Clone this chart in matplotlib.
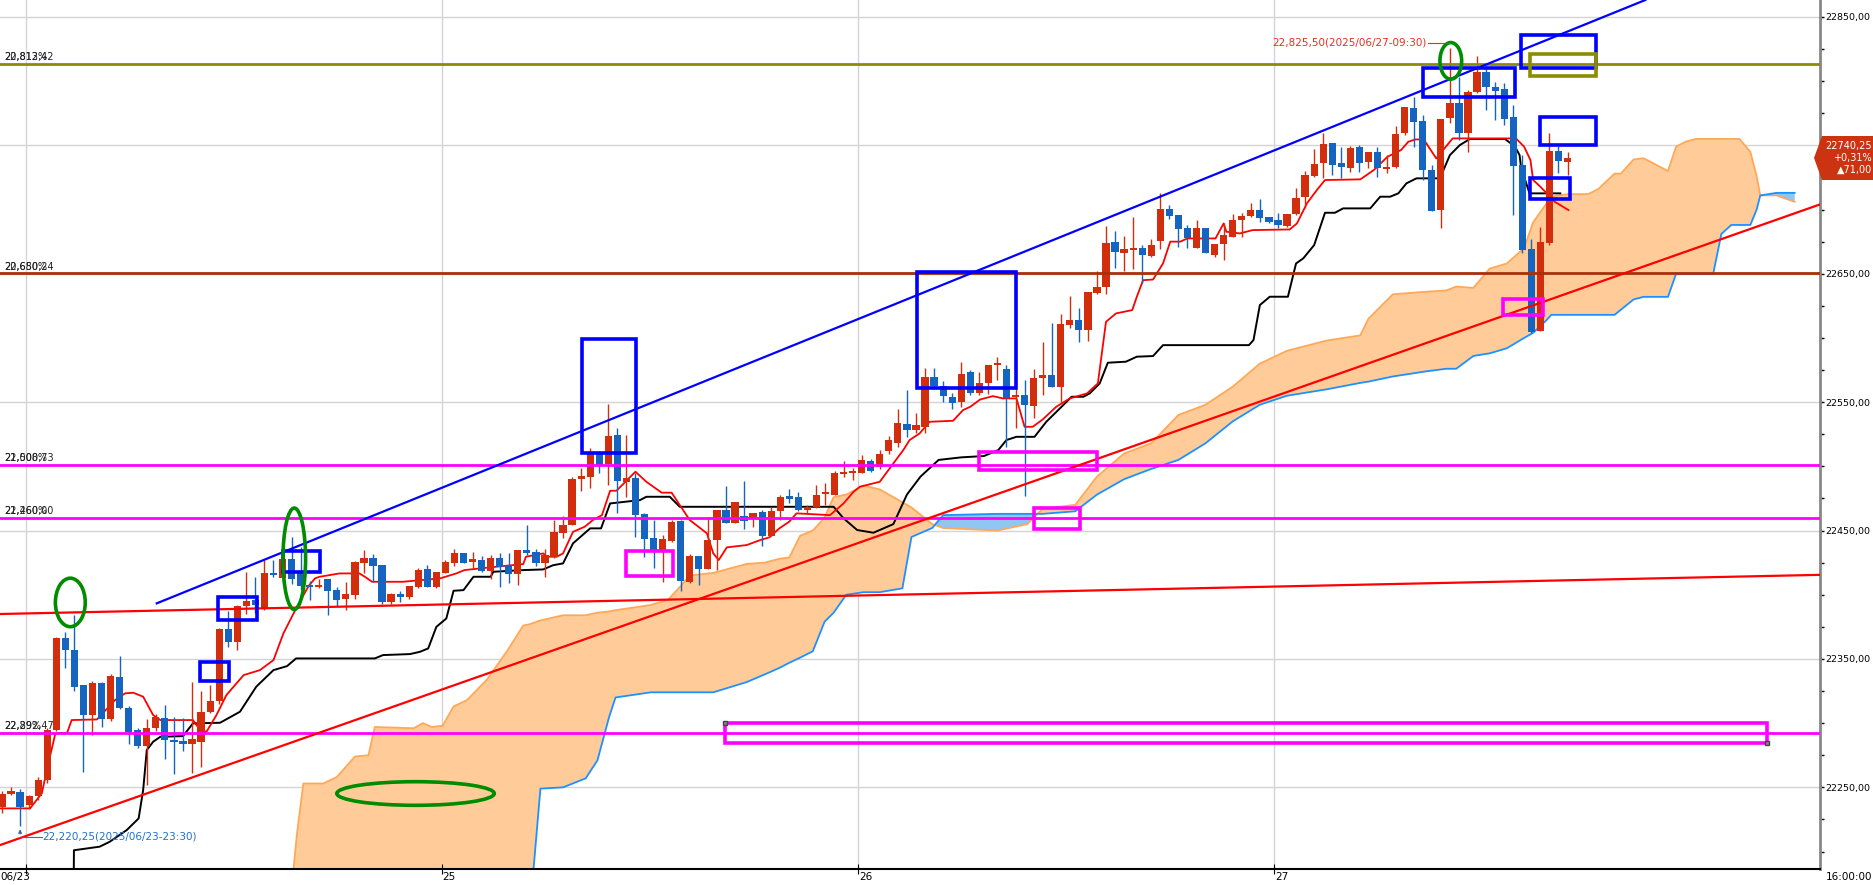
import numpy as np
import matplotlib.pyplot as plt
from matplotlib.patches import Rectangle, Ellipse, Polygon

# ------------------------------------------------------------
# 30-minute candles (x = bar number)
# ------------------------------------------------------------
opens = [22235, 22245, 22246, 22236, 22243, 22256, 22295, 22366, 22357, 22330,
         22306, 22331, 22303, 22336, 22312, 22295, 22282, 22296, 22304, 22287,
         22286, 22284, 22285, 22309, 22317, 22373, 22363, 22391, 22396, 22389,
         22417, 22413, 22428, 22418, 22407.5, 22406, 22412, 22404, 22396.6, 22400,
         22425, 22428.3, 22423, 22394, 22400.5, 22398, 22406.2, 22419.7, 22405.7, 22417.2,
         22425, 22432.2, 22425.7, 22427, 22418.7, 22428.3, 22423, 22416, 22434.8, 22433,
         22425, 22429.6, 22448.1, 22454.3, 22490, 22492, 22510, 22501.8, 22524.4, 22488,
         22490.6, 22462.8, 22444.2, 22434.8, 22442.1, 22457.4, 22410, 22430, 22419.7, 22442.6,
         22466, 22456.1, 22461.3, 22458.7, 22464.4, 22446, 22465, 22476.6, 22475.8, 22466,
         22468, 22478.4, 22477.6, 22494.3, 22494.5, 22495, 22504, 22499.5, 22512, 22518.4,
         22532.6, 22528.2, 22530.8, 22569.3, 22562.5, 22554.2, 22550.3, 22573.7, 22557.3, 22564.6,
         22578.6, 22575.7, 22553.7, 22555.5, 22547, 22568.5, 22571.1, 22562, 22610.1, 22614,
         22606.1, 22635.2, 22639.4, 22674.7, 22666.3, 22668.4, 22670, 22663.7, 22675.7, 22700.1,
         22695.7, 22685.3, 22669.7, 22685.3, 22664.6, 22673.1, 22678.8, 22691.8, 22694.9, 22699.6,
         22693.9, 22691.8, 22687.1, 22696.5, 22709.5, 22726.1, 22736, 22751.5, 22736, 22732,
         22748.4, 22737.2, 22745, 22731.3, 22732.8, 22759.3, 22778.8, 22769.2, 22730.8, 22699.6,
         22771, 22782.7, 22759.8, 22791.8, 22807.3, 22795.1, 22793.6, 22771.8, 22734.6, 22669,
         22605.6, 22674.1, 22745.6, 22737.2]
highs = [22247, 22250, 22249, 22244, 22258, 22296, 22367, 22371, 22384, 22330,
         22333, 22332, 22338, 22352, 22313, 22296, 22303, 22307, 22314, 22305,
         22304, 22332, 22325, 22330, 22374, 22387, 22392, 22418, 22414, 22427,
         22427, 22432, 22445, 22437, 22411, 22412, 22412, 22406, 22410, 22426,
         22435, 22432, 22423, 22401, 22403, 22407, 22421, 22423, 22418, 22427,
         22436, 22432.2, 22433.5, 22430, 22431, 22432.7, 22432.2, 22434.8, 22454.3, 22436,
         22436, 22458.2, 22461.3, 22492, 22498.4, 22514, 22512, 22548.5, 22529.6, 22524.4,
         22494.5, 22463.4, 22458.2, 22446.5, 22458.2, 22458.2, 22432, 22430, 22460.8, 22466,
         22484.6, 22472.5, 22488.5, 22463.9, 22465.9, 22468.5, 22477.6, 22482, 22480.2, 22469.8,
         22485.4, 22486.7, 22496.6, 22504, 22498.4, 22508.5, 22505.4, 22513, 22523.5, 22544.3,
         22559.4, 22541.2, 22576.3, 22576.3, 22566.8, 22556.8, 22581.2, 22575, 22573.7, 22578.9,
         22585.4, 22578.9, 22564.6, 22567.2, 22575.5, 22597, 22611.8, 22618.6, 22632.6, 22623,
         22636, 22652.3, 22687.1, 22683.5, 22679.3, 22693.9, 22672.3, 22676.7, 22713.1, 22703.5,
         22695.7, 22687.9, 22691.8, 22686, 22673.1, 22689.7, 22696.5, 22697, 22704.8, 22707.9,
         22693.9, 22697.5, 22696.5, 22716.5, 22730.2, 22746.8, 22759.3, 22751.5, 22748.4, 22749.4,
         22750.2, 22744.8, 22748.4, 22742.4, 22765, 22779.6, 22787.3, 22773.6, 22734.6, 22770.2,
         22825.5, 22803.4, 22793, 22819.5, 22811.8, 22799.5, 22798.3, 22781.4, 22742.4, 22676.8,
         22686.1, 22759.3, 22749.4, 22745]
lows = [22230, 22244, 22220.25, 22233, 22240, 22253, 22294, 22343, 22325, 22262,
        22291, 22297, 22302, 22311, 22284, 22281, 22252, 22294, 22272, 22260,
        22278, 22261, 22266, 22308, 22315, 22359, 22357, 22385, 22386, 22388,
        22414, 22410, 22408, 22404, 22396, 22405, 22384, 22391, 22388, 22397,
        22417, 22410, 22393, 22393, 22394.6, 22397, 22405, 22406, 22405, 22417,
        22422, 22425, 22420.5, 22418, 22412, 22406.2, 22408.8, 22407.5, 22431, 22422.5,
        22414, 22428.3, 22443.9, 22454, 22481, 22483, 22494.5, 22485.4, 22463.9, 22476.3,
        22444.7, 22429.6, 22420.5, 22410.1, 22441.3, 22403, 22409, 22407.5, 22419.7, 22419.2,
        22455.6, 22455.6, 22451, 22453, 22438, 22445.7, 22458.2, 22471.7, 22465.4, 22463.4,
        22467.3, 22469.8, 22477.6, 22492, 22489.3, 22495, 22495.8, 22498, 22510, 22515,
        22523, 22525.6, 22526.2, 22560, 22550.3, 22544.3, 22545.9, 22555.5, 22555.5, 22556,
        22567.2, 22515, 22529.5, 22477, 22537.3, 22555.5, 22561.5, 22550.3, 22607.4, 22597,
        22597.8, 22634.5, 22634.2, 22654.1, 22652.3, 22653.6, 22642.5, 22663, 22669, 22693,
        22671, 22669.7, 22669.7, 22665.9, 22663.3, 22660.7, 22678.8, 22679, 22694.4, 22690.5,
        22689.7, 22686, 22686.6, 22695.7, 22700.9, 22725, 22724.3, 22726.9, 22724.3, 22729.5,
        22729.5, 22732, 22725.6, 22728.7, 22732, 22758, 22748.9, 22723, 22699.1, 22685.3,
        22767.1, 22754, 22745, 22791, 22777.5, 22769.7, 22765.8, 22695.7, 22665.9, 22603.5,
        22605.6, 22672, 22728.7, 22726.9]
closes = [22245, 22247, 22235, 22243, 22256, 22295, 22366, 22357, 22328, 22306,
          22331, 22303, 22337, 22312, 22293, 22282, 22296, 22305, 22287, 22285,
          22284, 22288, 22309, 22317, 22373, 22363, 22391, 22395, 22392, 22417,
          22415, 22428, 22412, 22407, 22406, 22407.5, 22403, 22396, 22400.5, 22425.7,
          22428.3, 22422.3, 22394, 22400.5, 22398.5, 22406.8, 22419.2, 22406.2, 22418, 22425.7,
          22432.7, 22425, 22427.8, 22418.7, 22428.3, 22421.8, 22416, 22434.8, 22432.2, 22425,
          22430.9, 22449.1, 22454.3, 22490.1, 22492.4, 22510, 22501, 22523.6, 22488.8, 22490.6,
          22462, 22443.4, 22434.8, 22443.4, 22456.9, 22410.6, 22430, 22419.7, 22443, 22466,
          22455.6, 22472.5, 22457.6, 22463.9, 22446, 22465.2, 22475.8, 22474.8, 22466, 22468,
          22477.6, 22479.7, 22495, 22495.8, 22496.6, 22505, 22496.6, 22510, 22520.5, 22533.4,
          22528.2, 22532, 22569.3, 22562.5, 22554.7, 22549.5, 22571.9, 22556.8, 22564.6, 22578.9,
          22580.7, 22552.9, 22555.5, 22547.7, 22568.5, 22571.1, 22561.5, 22610.8, 22614, 22606.1,
          22636, 22639.9, 22674.1, 22667.1, 22669.5, 22670, 22664.5, 22672, 22700.1, 22695,
          22684.5, 22677.5, 22685.3, 22665.9, 22673.1, 22680.1, 22691.8, 22694.9, 22699.6, 22693.1,
          22690.5, 22687.9, 22696.5, 22708.7, 22726.9, 22735.4, 22751, 22734.6, 22732.8, 22747.6,
          22736.5, 22744.8, 22732, 22733.4, 22758.8, 22779.6, 22768.4, 22730.8, 22699.1, 22770.2,
          22783.2, 22759.8, 22791.8, 22807.3, 22795.1, 22792.5, 22770.2, 22733.9, 22668.5, 22604.8,
          22674.9, 22745.6, 22738, 22740.25]

# ------------------------------------------------------------
# Ichimoku lines, read as break points (bar, price)
# ------------------------------------------------------------
tenkan_x = [-0.2, 3.1, 4.4, 5.0, 5.9, 7.2, 7.7, 10.5, 12.5, 13.6, 14.5, 15.6, 16.7, 17.5,
            21.1, 21.9, 22.6, 23.7, 24.8, 26.7, 28.5, 30, 31.1, 32.6, 33.9, 34.6, 35.1,
            37.3, 39.5, 40.1, 40.9, 44.3, 48.4, 50.2, 51.1, 53.9, 57.6, 57.9, 59.8, 60.2,
            61.3, 62, 63.1, 64.4, 65.3, 66.3, 67.2, 67.9, 70, 71.2, 72.9, 74, 74.9, 76,
            77.9, 78.6, 79.2, 80.1, 82.3, 83.8, 84.8, 85.9, 87, 87.8, 91.5, 93, 94.1, 94.8,
            97, 99.6, 100.3, 101.4, 102.5, 105.1, 106.2, 107, 108.1, 109.5, 110.6, 112.1,
            113, 113.9, 115, 116.5, 118, 119.9, 121.1, 122, 123.1, 124.9, 125.4, 126.1,
            127.2, 128.3, 129.1, 130.2, 131, 134.1, 135, 135.3, 136.8, 138.2, 142.3, 143.1,
            144.2, 145.3, 146.2, 150.1, 151.6, 153.1, 154.6, 155.4, 156.2, 157.1, 157.4,
            158.5, 159.4, 160.3, 167.3, 168.2, 168.9, 169.2, 170, 171.6, 173.1]
tenkan_y = [22233.6, 22233.6, 22245.3, 22265, 22292, 22292.5, 22302.4, 22302.9, 22318, 22323.2,
            22323.7, 22320.6, 22306.3, 22302.4, 22302.4, 22294.6, 22293.3, 22306.3, 22321.9,
            22337.4, 22341.3, 22349.1, 22369.9, 22390.7, 22407, 22412.8, 22414, 22416.6,
            22416.6, 22414, 22410.1, 22410.1, 22412.7, 22416.6, 22419.2, 22421.3, 22423.9,
            22429.6, 22432.2, 22429.6, 22429.6, 22432.2, 22449, 22453, 22458.2, 22462, 22481,
            22481, 22495.8, 22488, 22479.5, 22479.5, 22469.8, 22458.2, 22447.8, 22432.2, 22427,
            22436.9, 22438.7, 22442.6, 22444.7, 22451.7, 22456.9, 22463.4, 22462, 22471.1,
            22480.2, 22484.1, 22488, 22512.7, 22520.5, 22525.6, 22534.7, 22535.5, 22543.8,
            22546.4, 22552.1, 22554.7, 22552.9, 22552.9, 22530.8, 22530.8, 22536.5, 22546.4,
            22552.9, 22556.8, 22564.6, 22612.6, 22619.1, 22621.7, 22632, 22645, 22645.5, 22658,
            22675, 22675, 22677.5, 22677.5, 22689.2, 22682.7, 22681.4, 22684, 22684.5, 22689.2,
            22704.8, 22715.2, 22723, 22723.5, 22730.8, 22741.1, 22746.3, 22752.8, 22754.6,
            22754.6, 22751.5, 22739.8, 22747.6, 22755.4, 22755.4, 22749, 22738.6, 22723,
            22717.8, 22706, 22699.6]

kijun_x = [7.9, 7.95, 10.8, 11.9, 13.8, 15.1, 15.6, 16, 16.7, 17.5, 20, 21.1, 24.1, 26.3,
           28.1, 30, 31.5, 32.5, 41.2, 42.1, 45.1, 46.2, 47.1, 48, 49.1, 49.9, 51, 52.1, 54,
           54.3, 57.6, 59.8, 60.9, 62, 63.1, 65, 66.2, 67.2, 70.5, 71.2, 73.8, 74.9, 91.9,
           93, 94.5, 96.3, 98.5, 100, 101.5, 103.5, 106, 108.5, 110.1, 111, 112.1, 114.1,
           115.4, 116.9, 118.2, 119.5, 120.2, 121.3, 122.2, 124.2, 125.4, 127.2, 128.3,
           137.8, 138.3, 139, 140.1, 142.1, 143, 143.8, 145, 146.2, 147.3, 148.2, 151.2,
           152.3, 153.4, 154.3, 155.2, 156.3, 158.9, 160, 161.1, 162.2, 166.1, 167.2, 167.7,
           167.9, 168.2, 168.8, 172.2]
kijun_y = [22150, 22201, 22203.8, 22207.6, 22216.8, 22225.8, 22247.9, 22279, 22285.5, 22289.4,
           22289.9, 22299.8, 22300.3, 22308.9, 22328.4, 22341.3, 22344.4, 22350.4, 22350.4,
           22353, 22353.8, 22355.6, 22358.2, 22375, 22381.5, 22403.1, 22403.6, 22414, 22414,
           22417.9, 22419.2, 22419.7, 22423, 22424.4, 22440, 22451.7, 22451.7, 22471.1,
           22473.7, 22476.3, 22476.3, 22468.5, 22468.5, 22459.5, 22450.4, 22448.3, 22455,
           22478, 22492, 22505, 22507, 22508, 22512.7, 22520.5, 22523, 22523, 22534.7,
           22545.1, 22554.2, 22554.2, 22556.8, 22564.6, 22580.7, 22581.5, 22585.4, 22585.9,
           22594.4, 22594.4, 22598.4, 22625.6, 22632.1, 22632.1, 22658, 22662, 22672.3,
           22697.5, 22697.5, 22700.9, 22700.9, 22710, 22710, 22712.6, 22720.4, 22724.3,
           22724.3, 22742.4, 22750.2, 22754.9, 22754.9, 22749, 22742.4, 22730.8, 22725.6,
           22712.6, 22712.6]

# leading spans A (orange edge) and B (blue edge) on common break points
cloud_x = [31.7, 32.6, 33.3, 35.5, 37.0, 39.0, 40.5, 41.2, 45.5, 46.5, 47.5, 48.7, 49.9,
           51.4, 53.6, 55.8, 57.6, 58.3, 59.5, 62.0, 64.5, 65.8, 67.1, 67.8, 71.7, 73.6,
           74.9, 76.0, 78.6, 82.3, 84.3, 85.9, 87.0, 88.2, 89.6, 90.9, 91.9, 93.3, 95.2,
           97.0, 99.5, 100.5, 102.8, 104.0, 110.0, 113.3, 115.0, 118.6, 121.0, 124.0,
           127.0, 130.0, 133.0, 136.0, 139.0, 142.0, 146.4, 150.1, 151.0, 153.7, 157.4,
           159.6, 160.7, 162.6, 164.4, 166.3, 168.2, 169.2, 170.7, 171.2, 173.0, 175.3,
           176.4, 178.2, 178.9, 180.3, 181.4, 184.1, 185.0, 186.1, 187.2, 189.1, 190.0,
           191.1, 192.0, 193.2, 193.9, 194.3, 196.1, 198.1]
span_a = [22150, 22214, 22253, 22253, 22258, 22274, 22275, 22297, 22296, 22300, 22297, 22298,
          22313, 22318, 22334, 22356, 22376, 22377, 22380, 22384, 22384, 22386, 22387, 22388,
          22392, 22396, 22406, 22415, 22417, 22424, 22425, 22428, 22429, 22446, 22450, 22460,
          22476, 22478, 22485, 22482, 22472, 22468, 22455, 22452, 22450, 22455, 22467, 22470,
          22492, 22510, 22518, 22540, 22548, 22562, 22580, 22590, 22598, 22602, 22615, 22634,
          22636, 22637, 22640, 22639, 22654, 22658, 22670, 22690, 22705, 22710, 22712, 22712,
          22716, 22728, 22728, 22739, 22740, 22730, 22749, 22753, 22755, 22755, 22755, 22755,
          22755, 22745, 22726, 22711, 22711, 22706]
span_b = [22100, 22100, 22100, 22100, 22100, 22100, 22100, 22100, 22100, 22100, 22100, 22100,
          22100, 22100, 22100, 22100, 22100, 22150, 22249, 22250, 22257, 22271, 22305, 22320,
          22324, 22324, 22324, 22324, 22324, 22332, 22338, 22343, 22347, 22351, 22356, 22379,
          22386, 22400, 22402, 22402, 22405, 22445, 22452, 22462, 22463, 22463, 22463, 22465,
          22478, 22490, 22498, 22505, 22518, 22535, 22548, 22555, 22560, 22565, 22566, 22570,
          22574, 22576, 22576, 22586, 22588, 22592, 22600, 22604, 22614, 22618, 22618, 22618,
          22618, 22618, 22622, 22630, 22632, 22632, 22650, 22650, 22650, 22650, 22681, 22688,
          22688, 22688, 22700, 22711, 22713, 22713]

# horizontal price levels
levels = [22813.42, 22650.24, 22500.73, 22460.00, 22292.47]
level_colors = ['#8c8c00', '#a8300a', '#ff00ff', '#ff00ff', '#ff00ff']
level_text_a = ['22,813,42', '22,650,24', '22,500,73', '22,460,00', '22,292,47']
level_text_b = ['20,812%', '20,680%', '21,008%', '21,260%', '22,89%']

# day separators
day_pos = [2.6, 48.6, 94.6, 140.6]
day_labels = ['06/23', '25', '26', '27']

# trend lines (bar, price)
blue_trend = [(17.1, 22393.3), (181.6, 22863.2)]
red_trend = [(-0.22, 22205.0), (200.9, 22704.0)]
red_flat = [(-0.22, 22385.0), (200.9, 22415.5)]

# drawn boxes: (bar0, bar1, price0, price1)
blue_boxes = [(21.9, 25.1, 22333, 22348), (23.9, 28.2, 22380.3, 22398.4),
              (31.0, 35.1, 22418, 22434.3), (64.1, 70.1, 22510.1, 22599.5),
              (101.1, 112.1, 22561.2, 22651.1), (157.0, 167.2, 22787.9, 22809.9),
              (167.9, 176.2, 22809.9, 22836), (170.0, 176.2, 22750.2, 22771.8),
              (168.9, 173.3, 22708, 22724.8)]
olive_boxes = [(168.9, 176.2, 22803.9, 22821)]
magenta_boxes = [(69.0, 74.2, 22414.6, 22434.3), (108.0, 121.0, 22497.4, 22511.4),
                 (114.0, 119.1, 22450.9, 22467.5), (165.9, 170.3, 22617.8, 22630),
                 (79.9, 195.0, 22284.5, 22300)]
# ellipses: (center bar, center price, width bars, height price)
green_ellipses = [(7.55, 22394, 3.3, 37.8), (32.3, 22428, 2.5, 79),
                  (45.7, 22245.2, 17.4, 18.4), (160.1, 22815.8, 2.4, 28.5)]

RED = '#d22e0e'
BLUE = '#1565c0'

# ------------------------------------------------------------
# Figure
# ------------------------------------------------------------
W, H = 1874, 885
fig = plt.figure(figsize=(W / 100, H / 100), dpi=100)
ax = fig.add_axes([0, 16 / H, 1820 / W, 869 / H])
ax.set_xlim(-0.22, 200.9)
ax.set_ylim(22186.4, 22863.2)

# grid
for d in day_pos:
    ax.axvline(d, color='#d4d4d4', lw=1, zorder=0.5)
for g in range(22250, 22851, 100):
    ax.axhline(g, color='#d4d4d4', lw=1, zorder=0.5)

# cloud
cx = np.array(cloud_x)
sa = np.array(span_a)
sb = np.array(span_b)
ax.fill_between(cx, sa, sb, where=sa >= sb, interpolate=True, color='#ffcc99', lw=0, zorder=1)
ax.fill_between(cx, sa, sb, where=sb > sa, interpolate=True, color='#8fc6f2', lw=0, zorder=1)
ax.plot(cx, sa, color='#ffa858', lw=1.3, zorder=2)
ax.plot(cx, sb, color='#1e90ff', lw=1.3, zorder=2)

# conversion / base lines
ax.plot(kijun_x, kijun_y, color='black', lw=1.4, zorder=3)
ax.plot(tenkan_x, tenkan_y, color='#ff0000', lw=1.3, zorder=3)

# candles
o = np.array(opens)
c = np.array(closes)
x = np.arange(len(o))
col = np.where(c >= o, RED, BLUE)
ax.vlines(x, lows, highs, colors=col, lw=1, zorder=4)
body = np.maximum(np.abs(c - o), 1.2)
ax.bar(x, body, bottom=np.minimum(o, c), width=0.8, color=col, lw=0, zorder=4)

# horizontal levels and their tags
for lv, lc, ta, tb in zip(levels, level_colors, level_text_a, level_text_b):
    ax.axhline(lv, color=lc, lw=2, zorder=5)
    for t in (ta, tb):
        ax.text(0.3, lv + 1.5, t, fontsize=7, color='#222222', va='bottom', ha='left', zorder=6)

# trend lines
for seg, lc in ((blue_trend, '#0000ff'), (red_trend, '#ff0000'), (red_flat, '#ff0000')):
    ax.plot([seg[0][0], seg[1][0]], [seg[0][1], seg[1][1]], color=lc, lw=1.6, zorder=5)

# shapes
for boxes, ec in ((blue_boxes, '#0000ff'), (olive_boxes, '#8c8c00'), (magenta_boxes, '#ff00ff')):
    for b0, b1, p0, p1 in boxes:
        ax.add_patch(Rectangle((b0, p0), b1 - b0, p1 - p0, fill=False, ec=ec, lw=2.6, zorder=6))
lr = magenta_boxes[-1]
ax.plot([lr[0], lr[1]], [lr[3], lr[2]], ls='none', marker='s', ms=3.5, mfc='#888888', mec='#444444', zorder=7)
for ex, ey, ew, eh in green_ellipses:
    ax.add_patch(Ellipse((ex, ey), ew, eh, fill=False, ec='#008c00', lw=2.6, zorder=6))

# high / low tags
ax.text(157.4, 22829.9, '22,825,50(2025/06/27-09:30)', fontsize=7.5, color='#e03020',
        ha='right', va='center', zorder=7)
ax.plot([157.6, 160], [22829.9, 22829.9], color='#e03020', lw=0.8, zorder=7)
ax.text(4.5, 22211.5, '22,220,25(2025/06/23-23:30)', fontsize=7.5, color='#1e6fd0',
        ha='left', va='center', zorder=7)
ax.plot([2, 4.4], [22211.5, 22211.5], color='#1e6fd0', lw=0.8, zorder=7)
ax.annotate('', xy=(2, 22219.5), xytext=(2, 22211.5),
            arrowprops=dict(arrowstyle='-|>', color='#1e6fd0', lw=0.8, mutation_scale=5), zorder=7)

# axes styling
for s in ('top', 'left'):
    ax.spines[s].set_visible(False)
ax.spines['right'].set_color('#888888')
ax.spines['right'].set_linewidth(2)
ax.spines['bottom'].set_color('black')
ax.spines['bottom'].set_linewidth(1.5)

yt = np.arange(22200, 22851, 25)
ax.yaxis.tick_right()
ax.set_yticks(yt)
ax.set_yticklabels([f'{v:.2f}'.replace('.', ',') if v % 100 == 50 and v != 22750 else '' for v in yt])
ax.tick_params(axis='y', length=3, width=1, labelsize=6.8, pad=0.5)

ax.set_xticks(day_pos)
ax.set_xticklabels([])
ax.tick_params(axis='x', length=7, width=0.8, direction='inout')
for d, lab in zip(day_pos, day_labels):
    if lab == '06/23':
        ax.text(0, -0.003, lab, transform=ax.transAxes, fontsize=7.5, ha='left', va='top')
    else:
        ax.text(d + 0.1, -0.003, lab, transform=ax.get_xaxis_transform(), fontsize=7.5,
                ha='left', va='top')
fig.text((W - 2) / W, 1 - 877 / H, '16:00:00', fontsize=7.5, ha='right', va='center')

# last price tag
px = [1814, 1822, 1874, 1874, 1822]
py = [158, 136, 136, 180, 180]
fig.patches.append(Polygon([(a / W, 1 - b / H) for a, b in zip(px, py)], closed=True,
                           transform=fig.transFigure, fc='#cc3311', ec='none', zorder=10))
for t, yy in (('22740,25', 146), ('+0,31%', 158), ('\u25b271,00', 170)):
    fig.text(1872 / W, 1 - yy / H, t, fontsize=7, color='white', ha='right', va='center', zorder=11)

fig.savefig('out.png', dpi=100)
